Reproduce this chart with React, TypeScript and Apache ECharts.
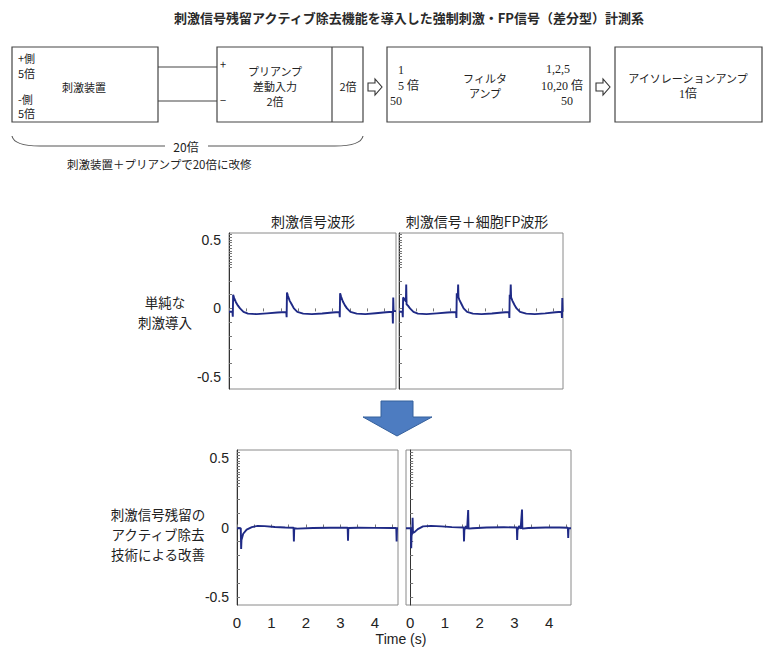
import React, { useEffect, useRef } from 'react';
import * as echarts from 'echarts';

// ---- data (time s, value) ----
const TOP_LEFT: number[][] = [
  [0, -0.025], [0.1, -0.025], [0.11, -0.06], [0.12, 0.1], [0.15, 0.075], [0.2, 0.045], [0.26, 0.02], [0.32, 0.0],
  [0.42, -0.025], [0.55, -0.038], [0.8, -0.042], [1.1, -0.036], [1.4, -0.03], [1.66, -0.026],
  [1.67, -0.065], [1.68, 0.115], [1.71, 0.09], [1.76, 0.055], [1.82, 0.028], [1.88, 0.0], [1.98, -0.025],
  [2.15, -0.038], [2.4, -0.042], [2.7, -0.037], [3.0, -0.03], [3.2, -0.026],
  [3.21, -0.065], [3.22, 0.11], [3.25, 0.085], [3.3, 0.05], [3.36, 0.022], [3.42, 0.0], [3.52, -0.025],
  [3.7, -0.038], [3.95, -0.042], [4.25, -0.035], [4.55, -0.028], [4.74, -0.025], [4.75, -0.11], [4.76, 0.08],
  [4.77, -0.02], [4.84, -0.02],
];
const TOP_RIGHT: number[][] = [
  [0, -0.025], [0.1, -0.025], [0.11, -0.065], [0.12, 0.08], [0.15, 0.07], [0.2, 0.05], [0.21, 0.175], [0.22, 0.03],
  [0.26, 0.02], [0.32, 0.0], [0.42, -0.025], [0.55, -0.038], [0.8, -0.042], [1.1, -0.036], [1.4, -0.03], [1.66, -0.026],
  [1.67, -0.07], [1.68, 0.11], [1.71, 0.09], [1.72, 0.175], [1.73, 0.08], [1.76, 0.06], [1.82, 0.03], [1.88, 0.0],
  [1.98, -0.025], [2.15, -0.038], [2.4, -0.042], [2.7, -0.037], [3.0, -0.03], [3.2, -0.026],
  [3.21, -0.07], [3.22, 0.1], [3.24, 0.09], [3.25, 0.175], [3.26, 0.08], [3.3, 0.055], [3.36, 0.025], [3.42, 0.0],
  [3.52, -0.025], [3.7, -0.038], [3.95, -0.042], [4.25, -0.036], [4.55, -0.028], [4.73, -0.025], [4.74, -0.07],
  [4.75, 0.075], [4.76, -0.025],
];
const BOTTOM_LEFT: number[][] = [
  [0, -0.005], [0.11, -0.005], [0.12, -0.155], [0.13, -0.09], [0.18, -0.045], [0.28, -0.015], [0.43, 0.003],
  [0.6, 0.012], [0.8, 0.01], [1.1, 0.004], [1.4, 0.0], [1.64, -0.002], [1.65, -0.1], [1.66, -0.005], [1.75, -0.008],
  [2.2, -0.004], [2.7, -0.002], [3.21, -0.002], [3.22, -0.095], [3.23, -0.004], [3.5, -0.002], [4.0, -0.003],
  [4.5, -0.004], [4.62, -0.004], [4.63, -0.1], [4.64, -0.005], [4.67, -0.005],
];
const BOTTOM_RIGHT: number[][] = [
  [-0.12, -0.005], [0.02, -0.005], [0.03, -0.15], [0.04, -0.06], [0.06, -0.04], [0.07, 0.07], [0.08, -0.04],
  [0.14, -0.03], [0.22, -0.012], [0.37, 0.008], [0.6, 0.012], [0.9, 0.008], [1.2, 0.003], [1.54, 0.0],
  [1.55, -0.1], [1.56, -0.02], [1.6, 0.01], [1.64, -0.01], [1.67, 0.125], [1.68, -0.008], [1.8, -0.005],
  [2.2, 0.0], [2.7, 0.002], [3.07, 0.0], [3.08, -0.09], [3.09, -0.02], [3.13, 0.01], [3.18, -0.008],
  [3.22, 0.13], [3.23, -0.008], [3.4, -0.004], [3.9, 0.0], [4.3, 0.0], [4.54, -0.002], [4.55, -0.075],
  [4.56, -0.005], [4.63, -0.005],
];

const Y_LABELS = [-0.5, 0, 0.5];
const Y_TICKS = [-0.5, -0.4, -0.3, -0.2, -0.1, 0, 0.1, 0.2, 0.3, 0.32, 0.34, 0.36, 0.38, 0.4, 0.42, 0.44, 0.46, 0.48, 0.5, 0.52, 0.54];
const X_LABELS = [0, 1, 2, 3, 4];
const X_TICKS = [0, 0.5, 1, 1.5, 2, 2.5, 3, 3.5, 4, 4.5];

const COL_TITLES = ['刺激信号波形', '刺激信号＋細胞FP波形'];
const ROW_TOP = ['単純な', '刺激導入'];
const ROW_BOTTOM = ['刺激信号残留の', 'アクティブ除去', '技術による改善'];
const TITLE = '刺激信号残留アクティブ除去機能を導入した強制刺激・FP信号（差分型）計測系';

const JP = "'Noto Sans CJK JP', 'Noto Sans', sans-serif";
const SERIF = "'Liberation Serif', 'Noto Sans CJK JP', serif";
const SANS = "'Liberation Sans', Arial, sans-serif";

export default function App() {
  const ref = useRef<HTMLDivElement>(null);
  useEffect(() => {
    const chart = echarts.init(ref.current!, null, { renderer: 'svg' });
    const panels = [
      { grid: { left: 229, top: 233, width: 167, height: 156 }, xmin: 0, xmax: 4.84, ymin: -0.588, ymax: 0.55, yl: true, xl: false, data: TOP_LEFT },
      { grid: { left: 399, top: 233, width: 164, height: 156 }, xmin: 0, xmax: 4.77, ymin: -0.588, ymax: 0.55, yl: false, xl: false, data: TOP_RIGHT },
      { grid: { left: 237, top: 450, width: 161, height: 155 }, xmin: 0, xmax: 4.67, ymin: -0.558, ymax: 0.558, yl: true, xl: true, data: BOTTOM_LEFT },
      { grid: { left: 406, top: 450, width: 165, height: 155 }, xmin: -0.12, xmax: 4.63, ymin: -0.558, ymax: 0.558, yl: false, xl: true, data: BOTTOM_RIGHT },
    ];
    const grids = panels.map((p) => ({ ...p.grid, show: true, borderColor: '#8a8a8a', borderWidth: 1, containLabel: false }));
    const xAxes = panels.map((p, i) => ({
      type: 'value', gridIndex: i, min: p.xmin, max: p.xmax,
      splitLine: { show: false },
      axisLine: { show: false },
      axisTick: { show: true, inside: p.xl, length: 3, lineStyle: { color: '#777' }, customValues: X_TICKS },
      axisLabel: p.xl
        ? { show: true, customValues: X_LABELS, fontSize: 15, fontFamily: SANS, color: '#222', margin: 10 }
        : { show: false },
    }));
    const yAxes = panels.map((p, i) => ({
      type: 'value', gridIndex: i, min: p.ymin, max: p.ymax,
      splitLine: { show: false },
      axisLine: { show: true, lineStyle: { color: '#333', width: 1 } },
      axisTick: { show: true, inside: true, length: 3, lineStyle: { color: '#777' }, customValues: Y_TICKS },
      axisLabel: p.yl
        ? { show: true, customValues: Y_LABELS, fontSize: 14, fontFamily: SANS, color: '#222', margin: 8,
            formatter: (v: number) => (v === 0 ? '0' : String(v)) }
        : { show: false },
    }));
    const series = panels.map((p, i) => ({
      type: 'line', xAxisIndex: i, yAxisIndex: i, data: p.data, showSymbol: false, symbol: 'none',
      lineStyle: { color: '#1f2a86', width: 1.9 }, silent: true,
    }));

    const txt = (text: string, x: number, y: number, o: any = {}) => ({
      type: 'text', x, y, silent: true,
      style: { text, fontSize: o.fontSize || 11, fontFamily: o.fontFamily || JP, fill: o.fill || '#222',
        fontWeight: o.fontWeight || 'normal', lineHeight: o.lineHeight,
        textAlign: o.align || 'left', textVerticalAlign: 'middle' },
    });
    const rect = (x: number, y: number, w: number, h: number) => ({
      type: 'rect', shape: { x, y, width: w, height: h }, silent: true,
      style: { fill: '#fff', stroke: '#444', lineWidth: 1.2 },
    });
    const line = (x1: number, y1: number, x2: number, y2: number) => ({
      type: 'line', shape: { x1, y1, x2, y2 }, silent: true, style: { stroke: '#444', lineWidth: 1.2 },
    });
    const hollowArrow = (x: number, y: number) => ({
      type: 'polygon', silent: true,
      shape: { points: [[x, y - 4], [x + 7, y - 4], [x + 7, y - 8], [x + 14, y], [x + 7, y + 8], [x + 7, y + 4], [x, y + 4]] },
      style: { fill: '#fff', stroke: '#333', lineWidth: 1.1 },
    });

    const elements: any[] = [
      txt(TITLE, 409, 17, { align: 'center', fontSize: 13, fontWeight: 'bold', fill: '#2a2a2a' }),
      // box 1
      rect(12, 47, 146, 75),
      txt('+側\n5倍', 18, 65.5, { lineHeight: 15 }),
      txt('刺激装置', 84, 87, { align: 'center' }),
      txt('-側\n5倍', 18, 106, { lineHeight: 14.5 }),
      line(158, 67, 217, 67), line(158, 101, 217, 101),
      // box 2
      rect(217, 47, 146, 75), line(332, 47, 332, 122),
      txt('+', 220, 64), txt('−', 220, 100),
      txt('プリアンプ\n差動入力\n2倍', 275, 86, { align: 'center', lineHeight: 15 }),
      txt('2倍', 348, 86, { align: 'center' }),
      hollowArrow(368, 87),
      // box 3
      rect(387, 47, 203, 75),
      txt('1', 398, 70, { fontFamily: SERIF, fontSize: 12 }),
      txt('5 倍', 398, 86, { fontFamily: SERIF, fontSize: 12 }),
      txt('50', 390, 101, { fontFamily: SERIF, fontSize: 12 }),
      txt('フィルタ\nアンプ', 485, 85.5, { align: 'center', lineHeight: 15 }),
      txt('1,2,5', 558, 69, { align: 'center', fontFamily: SERIF, fontSize: 12 }),
      txt('10,20 倍', 562, 86, { align: 'center', fontFamily: SERIF, fontSize: 12 }),
      txt('50', 567, 101, { align: 'center', fontFamily: SERIF, fontSize: 12 }),
      hollowArrow(596, 87),
      // box 4
      rect(615, 47, 147, 75),
      txt('アイソレーションアンプ', 688, 78, { align: 'center' }),
      txt('1倍', 688, 94, { align: 'center', fontFamily: SERIF, fontSize: 12 }),
      // brace
      { type: 'bezierCurve', silent: true, shape: { x1: 12, y1: 136, x2: 40, y2: 146, cpx1: 14, cpy1: 146 }, style: { stroke: '#555', fill: 'none', lineWidth: 1.1 } },
      { type: 'line', silent: true, shape: { x1: 40, y1: 146, x2: 165, y2: 146 }, style: { stroke: '#555', lineWidth: 1.1 } },
      txt('20倍', 186, 146, { align: 'center', fontSize: 12 }),
      { type: 'line', silent: true, shape: { x1: 208, y1: 146, x2: 335, y2: 146 }, style: { stroke: '#555', lineWidth: 1.1 } },
      { type: 'bezierCurve', silent: true, shape: { x1: 335, y1: 146, x2: 363, y2: 136, cpx1: 361, cpy1: 146 }, style: { stroke: '#555', fill: 'none', lineWidth: 1.1 } },
      txt('刺激装置＋プリアンプで20倍に改修', 67, 164, { fontSize: 11.5 }),
      // chart titles
      txt(COL_TITLES[0], 313, 221, { align: 'center', fontSize: 14 }),
      txt(COL_TITLES[1], 477, 221, { align: 'center', fontSize: 14 }),
      txt(ROW_TOP.join('\n'), 165, 311.5, { align: 'center', fontSize: 13.5, lineHeight: 20 }),
      txt(ROW_BOTTOM.join('\n'), 158, 533.5, { align: 'center', fontSize: 13.5, lineHeight: 20 }),
      txt('Time (s)', 401, 639, { align: 'center', fontSize: 14, fontFamily: SANS }),
      // blue down arrow
      { type: 'polygon', silent: true,
        shape: { points: [[381, 401], [413, 401], [413, 417], [432, 417], [397, 436], [363, 417], [381, 417]] },
        style: { fill: '#4d7cc1', stroke: '#35609c', lineWidth: 1 } },
    ];

    chart.setOption({
      animation: false,
      backgroundColor: '#fff',
      grid: grids,
      xAxis: xAxes,
      yAxis: yAxes,
      series,
      graphic: { elements },
    });
    return () => chart.dispose();
  }, []);
  return <div ref={ref} style={{ position: 'absolute', left: 0, top: 0, width: 766, height: 649, background: '#fff' }} />;
}
